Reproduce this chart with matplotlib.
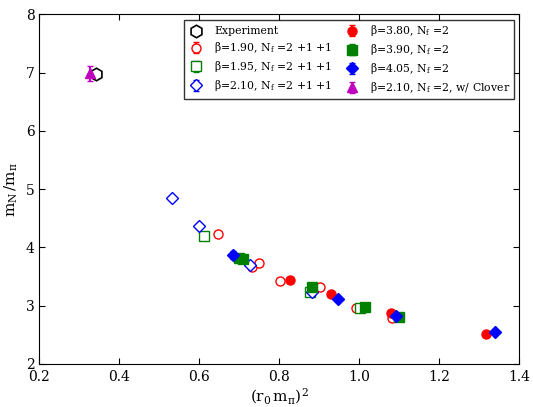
import matplotlib
matplotlib.use("Agg")
import matplotlib.pyplot as plt

plt.rcParams['font.family'] = ['DejaVu Serif']
plt.rcParams['mathtext.fontset'] = 'dejavuserif'
plt.rcParams['mathtext.default'] = 'regular'

# experiment
exp_x = [0.342]
exp_y = [6.976]

# N_f = 2+1+1, open markers
b190_x = [0.647, 0.732, 0.750, 0.803, 0.902, 0.992, 1.083]
b190_y = [4.226, 3.66, 3.74, 3.43, 3.317, 2.967, 2.786]
b190_e = [0.05, 0.04, 0.04, 0.03, 0.03, 0.03, 0.03]

b195_x = [0.613, 0.878, 1.002]
b195_y = [4.19, 3.242, 2.957]
b195_e = [0.05, 0.03, 0.03]

b210_x = [0.531, 0.600, 0.727, 0.883]
b210_y = [4.844, 4.369, 3.70, 3.24]
b210_e = [0.04, 0.04, 0.04, 0.03]

# N_f = 2, filled markers
b380_x = [0.827, 0.930, 1.081, 1.318]
b380_y = [3.44, 3.197, 2.882, 2.52]
b380_e = [0.03, 0.03, 0.04, 0.03]

b390_x = [0.700, 0.710, 0.883, 1.014, 1.099]
b390_y = [3.815, 3.80, 3.317, 2.985, 2.813]
b390_e = [0.04, 0.04, 0.03, 0.03, 0.03]

b405_x = [0.685, 0.948, 1.092, 1.339]
b405_y = [3.871, 3.111, 2.825, 2.545]
b405_e = [0.07, 0.03, 0.03, 0.03]

clov_x = [0.328]
clov_y = [6.988]
clov_e = [0.13]

fig = plt.figure(figsize=(5.33, 4.07), dpi=100)
ax = fig.add_axes([0.0737, 0.1057, 0.9, 0.859])

ms = 6.5
ax.errorbar(exp_x, exp_y, fmt='h', ms=9, mfc='white', mec='k', mew=1.2,
            color='k', label='Experiment')
ax.errorbar(b190_x, b190_y, yerr=b190_e, fmt='o', ms=ms, mfc='white', mec='r',
            mew=1.0, color='r', ecolor='r', capsize=2,
            label=r'$\beta$=1.90, N$_f$ =2 +1 +1')
ax.errorbar(b195_x, b195_y, yerr=b195_e, fmt='s', ms=ms, mfc='white', mec='g',
            mew=1.0, color='g', ecolor='g', capsize=2,
            label=r'$\beta$=1.95, N$_f$ =2 +1 +1')
ax.errorbar(b210_x, b210_y, yerr=b210_e, fmt='D', ms=ms, mfc='white', mec='b',
            mew=1.0, color='b', ecolor='b', capsize=2,
            label=r'$\beta$=2.10, N$_f$ =2 +1 +1')
ax.errorbar(b380_x, b380_y, yerr=b380_e, fmt='o', ms=ms, color='r', mec='r',
            ecolor='r', capsize=2, label=r'$\beta$=3.80, N$_f$ =2')
ax.errorbar(b390_x, b390_y, yerr=b390_e, fmt='s', ms=ms, color='g', mec='g',
            ecolor='g', capsize=2, label=r'$\beta$=3.90, N$_f$ =2')
ax.errorbar(b405_x, b405_y, yerr=b405_e, fmt='D', ms=ms, color='b', mec='b',
            ecolor='b', capsize=2, label=r'$\beta$=4.05, N$_f$ =2')
ax.errorbar(clov_x, clov_y, yerr=clov_e, fmt='^', ms=ms, color='m', mec='m',
            ecolor='m', capsize=2, label=r'$\beta$=2.10, N$_f$ =2, w/ Clover')

ax.set_xlim(0.2, 1.4)
ax.set_ylim(2, 8)
ax.set_xticks([0.2, 0.4, 0.6, 0.8, 1.0, 1.2, 1.4])
ax.set_yticks([2, 3, 4, 5, 6, 7, 8])
ax.tick_params(direction='in', top=True, right=True, length=4, labelsize=10)
ax.tick_params(axis='x', pad=4)
ax.set_xlabel(r'$(r_0\,m_\pi)^2$', fontsize=11, labelpad=2)
ax.set_ylabel(r'$m_N\,/m_\pi$', fontsize=11)

leg = ax.legend(loc='upper right', bbox_to_anchor=(0.99, 0.985), ncol=2,
                fontsize=7.8, fancybox=False, numpoints=1, handlelength=1.5,
                handletextpad=0.9, columnspacing=1.1, borderpad=0.35,
                labelspacing=0.36, borderaxespad=0)
leg.get_frame().set_edgecolor('k')

fig.savefig('out.png', dpi=100)
